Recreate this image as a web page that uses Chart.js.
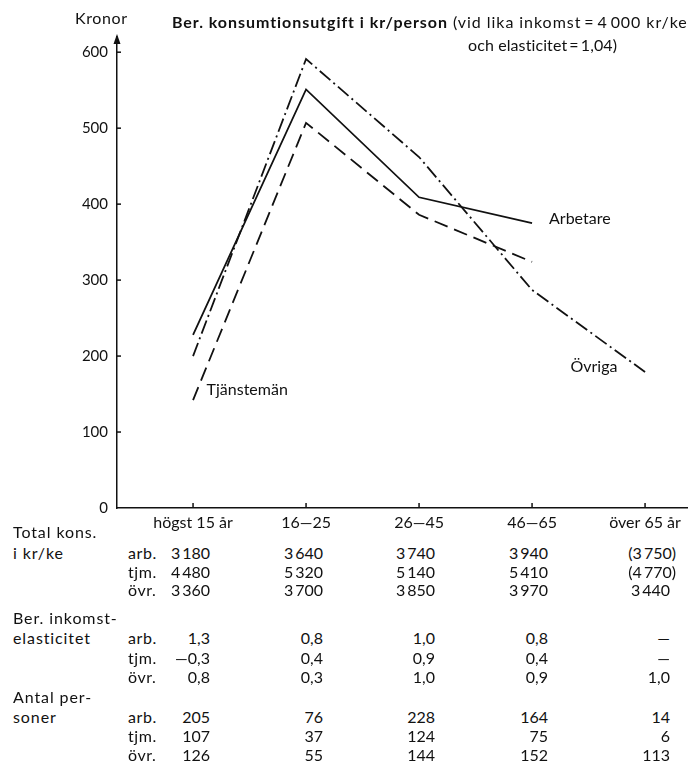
<!DOCTYPE html>
<html lang="sv">
<head>
<meta charset="utf-8">
<script src="https://cdn.jsdelivr.net/npm/chart.js@4.4.0/dist/chart.umd.min.js"></script>
<style>
    html, body { margin: 0; padding: 0; background: #fff; }
    body { width: 688px; height: 764px; position: relative; overflow: hidden;
           font-family: Lato, "Open Sans", sans-serif; color: #111; }
    #wrap { position: absolute; left: 0; top: 0; width: 688px; height: 540px; }
    .t { position: absolute; white-space: nowrap; font-size: 16px; line-height: 18px; height: 18px; }
    .w { letter-spacing: 0.9px; }
    .h { letter-spacing: 0.6px; }
    .r { text-align: right; }
</style>
</head>
<body>
<div id="wrap"><canvas id="chart" width="688" height="540"></canvas></div>
<div class="t h" style="left:75px; top:9px;">Kronor</div>
<div class="t" style="left:172px; top:13px; letter-spacing:0.95px;"><b>Ber. konsumtionsutgift i kr/person</b> (vid lika inkomst&thinsp;=&thinsp;4&thinsp;000 kr/ke</div>
<div class="t" style="left:468px; top:36px; letter-spacing:0.1px;">och elasticitet&thinsp;=&thinsp;1,04)</div>
<div id="table"></div>
<script>
// age groups (x axis)
const ageGroups = ['högst 15 år', '16—25', '26—45', '46—65', 'över 65 år'];
const yTicks = [0, 100, 200, 300, 400, 500, 600];

// calculated consumption expenditure, kr/person
const arbetare   = [228, 551, 409, 375];
const tjansteman = [142, 507, 386, 324];
const ovriga     = [200, 591, 462, 287, 179];

// table below the chart
const totalArb = [3180, 3640, 3740, 3940, 3750];
const totalTjm = [4480, 5320, 5140, 5410, 4770];
const totalOvr = [3360, 3700, 3850, 3970, 3440];
const elastArb = [1.3, 0.8, 1.0, 0.8, null];
const elastTjm = [-0.3, 0.4, 0.9, 0.4, null];
const elastOvr = [0.8, 0.3, 1.0, 0.9, 1.0];
const antalArb = [205, 76, 228, 164, 14];
const antalTjm = [107, 37, 124, 75, 6];
const antalOvr = [126, 55, 144, 152, 113];

const toPoints = arr => arr.map((v, i) => ({ x: i, y: v }));

// where the curve names sit, in data units
const lineNames = [
    { text: 'Arbetare', x: 3.15, y: 381 },
    { text: 'Tjänstemän', x: 0.12, y: 155 },
    { text: 'Övriga', x: 3.34, y: 186 }
];

const axisMarks = {
    id: 'axisMarks',
    afterDraw(chart) {
        const { ctx, chartArea: a, scales: { x, y } } = chart;
        ctx.save();
        ctx.strokeStyle = '#111';
        ctx.lineWidth = 1.5;
        y.ticks.forEach(t => {
            if (t.value === 0) return;
            const py = y.getPixelForValue(t.value);
            ctx.beginPath(); ctx.moveTo(a.left, py); ctx.lineTo(a.left + 4, py); ctx.stroke();
        });
        x.ticks.forEach(t => {
            const px = x.getPixelForValue(t.value);
            ctx.beginPath(); ctx.moveTo(px, a.bottom); ctx.lineTo(px, a.bottom - 5); ctx.stroke();
        });
        // arrow head on the y axis
        ctx.fillStyle = '#111';
        ctx.beginPath();
        ctx.moveTo(a.left, a.top - 3);
        ctx.lineTo(a.left - 3.5, a.top + 7);
        ctx.lineTo(a.left + 3.5, a.top + 7);
        ctx.closePath(); ctx.fill();
        ctx.font = '16px Lato';
        ctx.textBaseline = 'middle';
        ctx.textAlign = 'left';
        lineNames.forEach(n => ctx.fillText(n.text, x.getPixelForValue(n.x), y.getPixelForValue(n.y)));
        ctx.restore();
    }
};

const lineStyle = { borderColor: '#111', borderWidth: 1.8, pointRadius: 0, tension: 0, fill: false };

new Chart(document.getElementById('chart').getContext('2d'), {
    type: 'line',
    data: {
        datasets: [
            { ...lineStyle, label: 'Arbetare', data: toPoints(arbetare) },
            { ...lineStyle, label: 'Tjänstemän', data: toPoints(tjansteman), borderDash: [14, 7] },
            { ...lineStyle, label: 'Övriga', data: toPoints(ovriga), borderDash: [14, 4, 2, 4] }
        ]
    },
    options: {
        responsive: false,
        animation: false,
        layout: { padding: { top: 37, left: 0, right: 0, bottom: 0 } },
        plugins: { legend: { display: false }, tooltip: { enabled: false } },
        scales: {
            x: {
                type: 'linear',
                min: -0.673,
                max: 4.38,
                grid: { display: false, drawTicks: false },
                border: { display: true, color: '#111', width: 1.5 },
                afterBuildTicks: s => { s.ticks = ageGroups.map((c, i) => ({ value: i })); },
                afterFit: s => { s.height = 32; },
                ticks: {
                    padding: 5,
                    color: '#111',
                    font: { family: 'Lato', size: 16 },
                    maxRotation: 0,
                    autoSkip: false,
                    callback: v => ageGroups[v]
                }
            },
            y: {
                min: 0,
                max: 620,
                grid: { display: false, drawTicks: false },
                border: { display: true, color: '#111', width: 1.5 },
                afterBuildTicks: s => { s.ticks = yTicks.map(v => ({ value: v })); },
                afterFit: s => { s.width = 117; },
                ticks: { padding: 9, color: '#111', font: { family: 'Lato', size: 15 } }
            }
        }
    },
    plugins: [axisMarks]
});

// ---- table ----
const fmtKr = v => {
    const s = String(v);
    return s.length > 3 ? s.slice(0, -3) + '\u2009' + s.slice(-3) : s;
};
const fmtEl = v => v === null ? '—' : (v < 0 ? '—' : '') + Math.abs(v).toFixed(1).replace('.', ',');

const colRight = [210, 323, 435, 548, 670];
const sections = [
    { head: ['Total kons.', 'i kr/ke'], headY: [532, 553], rowY: [553, 572, 590],
      rows: [['arb.', totalArb, [4]], ['tjm.', totalTjm, [4]], ['övr.', totalOvr, []]], fmt: fmtKr },
    { head: ['Ber. inkomst-', 'elasticitet'], headY: [618, 638], rowY: [638, 658, 677],
      rows: [['arb.', elastArb, []], ['tjm.', elastTjm, []], ['övr.', elastOvr, []]], fmt: fmtEl },
    { head: ['Antal per-', 'soner'], headY: [697, 717], rowY: [717, 736, 755],
      rows: [['arb.', antalArb, []], ['tjm.', antalTjm, []], ['övr.', antalOvr, []]], fmt: fmtKr }
];

const table = document.getElementById('table');
function put(text, left, cy, right, cls) {
    const d = document.createElement('div');
    d.className = 't' + (right ? ' r' : '') + (cls ? ' ' + cls : '');
    d.textContent = text;
    d.style.top = (cy - 9) + 'px';
    if (right) { d.style.left = (left - 80) + 'px'; d.style.width = '80px'; }
    else d.style.left = left + 'px';
    table.appendChild(d);
}
sections.forEach(sec => {
    sec.head.forEach((h, i) => put(h, 13, sec.headY[i], false, 'w'));
    sec.rows.forEach(([name, vals, paren], r) => {
        put(name, 128, sec.rowY[r], false, 'h');
        vals.forEach((v, c) => {
            let s = sec.fmt(v);
            if (paren.includes(c)) s = '(' + s + ')';
            // brackets hang past the column edge
            put(s, colRight[c] + (paren.includes(c) ? 6 : 0), sec.rowY[r], true);
        });
    });
});
</script>
</body>
</html>
